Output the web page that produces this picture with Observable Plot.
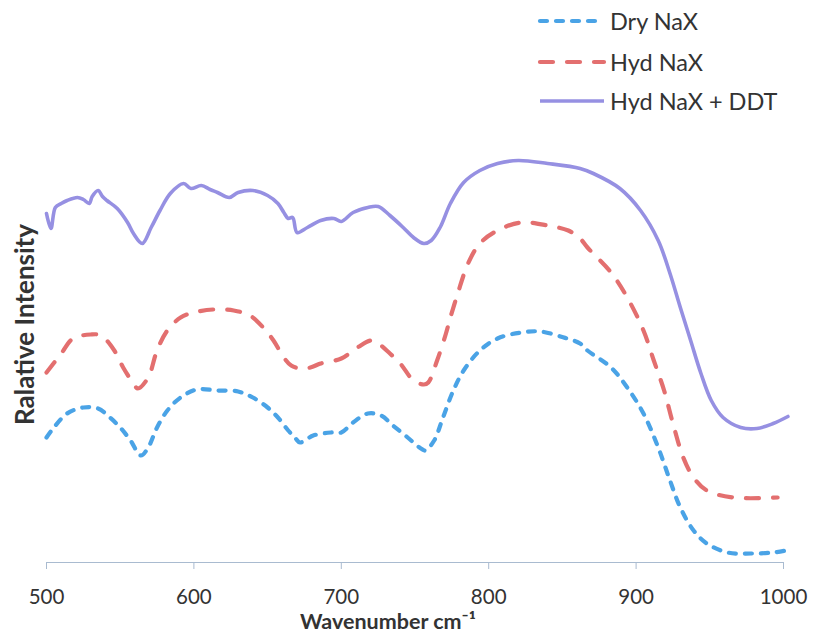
<!DOCTYPE html>
<html>
<head>
<meta charset="utf-8">
<script src="https://cdn.jsdelivr.net/npm/d3@7"></script>
<script src="https://cdn.jsdelivr.net/npm/@observablehq/plot@0.6"></script>
<style>
  html, body { margin: 0; padding: 0; background: #fff; }
  #wrap { position: relative; width: 813px; height: 635px; font-family: Lato, "Open Sans", sans-serif; }
  #legend { position: absolute; left: 537px; top: 0; }
  .row { position: absolute; left: 0; height: 30px; display: flex; align-items: center; white-space: nowrap;
         font-size: 23.5px; color: #333; }
  .row svg { margin-right: 3px; }
</style>
</head>
<body>
<div id="wrap"></div>
<script>
// Raman spectra, 500–1000 cm-1 (relative intensity, arbitrary units)
const dryWave = [500,505,514,525,535,543,550,557,564,569,575,582,591,602,616,630,640,650,657,664,669,672,681,693,700,708,718,727,735,745,754,757,763,769,776,783,794,806,822,835,851,862,867,883,894,905,915,923,930,939,948,962,978,993,1002];
const dryIntensity = [25,27,29.8,31,30.8,29,27,24.4,21.4,23,27,30.4,33,34.6,34.4,34.2,33,31,29,26.4,24.8,24,25.4,26,26,28,29.8,29.4,27.4,25,22.8,22.4,24.4,29,34.4,38.4,42.4,44.8,46,46.2,45,43.8,42.4,39,35,29.8,23,16.4,11,6.4,3.8,2,1.8,2,2.4];

const hydWave = [500,510,518,530,537,546,552,559,562,569,575,582,591,600,613,627,638,647,654,661,666,672,679,686,700,711,720,725,733,740,749,756,759,765,771,774,779,786,794,806,822,840,854,862,867,883,894,905,912,919,925,932,939,948,966,996];
const hydIntensity = [38,41.8,44.8,45.6,45.4,42.4,39,35.8,34.8,37,42.4,46.4,49,50,50.6,50.4,49.4,47,44.4,41,39.4,38.8,39,39.8,40.8,43,44.4,43.8,41.8,39.8,36.4,35.6,36,40.4,45.8,49,53.8,59.8,63.8,66.4,68,67.4,66.4,64.8,63,58,53,46.4,40.4,34.4,27.8,21,17,14.4,13,13];

const ddtWave = [500,503,506,510,514,521,525,529,531,535,538,541,548,555,559,565,571,577,584,593,598,605,611,616,624,630,640,650,657,661,664,667,670,677,686,695,700,708,718,725,733,742,749,756,761,767,774,783,794,806,820,840,862,871,889,903,915,923,930,937,944,951,959,971,982,993,1003];
const ddtIntensity = [69.8,66.8,71,71.8,72.4,73,72.6,71.8,73.2,74.4,73.2,72.4,70.8,68,65.8,63.8,67,70.4,73.8,75.8,74.8,75.4,74.6,74,73,74,74.4,73.4,71.8,70,68.8,69,66,67,68.4,68.8,68.2,70,71,71.2,69.4,67,65,63.8,64.4,67,71.8,76,78.4,79.8,80.4,79.8,78.8,77.8,74.8,70.4,64.4,57.8,51,44.4,37.8,32.4,29,27,26.8,27.8,29.2];

const seriesNames = ["Dry NaX", "Hyd NaX", "Hyd NaX + DDT"];
const xTicks = [500, 600, 700, 800, 900, 1000];
const xLabel = "Wavenumber cm⁻¹";
const yLabel = "Ralative Intensity";

const styles = {
  "Dry NaX":       {stroke: "#4aa3e6", strokeWidth: 4.2, strokeDasharray: "7,9", strokeLinecap: "round"},
  "Hyd NaX":       {stroke: "#e36f6f", strokeWidth: 4.2, strokeDasharray: "13,14", strokeLinecap: "round"},
  "Hyd NaX + DDT": {stroke: "#9690e2", strokeWidth: 3.6}
};

const toRows = (waves, values) => waves.map((w, i) => ({w, v: values[i]}));
const series = [
  toRows(dryWave, dryIntensity),
  toRows(hydWave, hydIntensity),
  toRows(ddtWave, ddtIntensity)
];

const chart = Plot.plot({
  width: 813,
  height: 635,
  marginLeft: 46,
  marginRight: 30,
  marginTop: 62,
  marginBottom: 73,
  style: {fontFamily: "Lato, 'Open Sans', sans-serif", background: "#fff", color: "#333"},
  x: {domain: [500, 1000]},
  y: {domain: [0, 100], axis: null},
  marks: [
    Plot.axisX({ticks: xTicks, tickSize: 7, tickPadding: 20, fontSize: 20.5, stroke: "#a9bbd0", label: null, tickFormat: d => String(d)}),
    Plot.ruleY([0], {stroke: "#a9bbd0", strokeWidth: 1}),
    ...series.map((rows, i) => Plot.line(rows, {
      x: "w", y: "v", curve: "catmull-rom", ...styles[seriesNames[i]]
    })),
    Plot.text([yLabel], {frameAnchor: "left", textAnchor: "middle", rotate: -90, dx: -21, dy: 12, fontSize: 26, fontWeight: "bold", fill: "#333", lineAnchor: "middle"}),
    Plot.text([xLabel], {frameAnchor: "bottom", textAnchor: "middle", dx: -27, dy: 60, fontSize: 21.5, fontWeight: "bold", fill: "#333", lineAnchor: "middle"})
  ]
});

const wrap = document.getElementById("wrap");
wrap.appendChild(chart);

// legend, top right
const legend = document.createElement("div");
legend.id = "legend";
const rowTops = [6, 47, 86];
seriesNames.forEach((name, i) => {
  const s = styles[name];
  const row = document.createElement("div");
  row.className = "row";
  row.style.top = rowTops[i] + "px";
  const svg = d3.create("svg").attr("width", 70).attr("height", 30);
  svg.append("line")
    .attr("x1", 3).attr("x2", 67).attr("y1", 15).attr("y2", 15)
    .attr("stroke", s.stroke).attr("stroke-width", s.strokeWidth)
    .attr("stroke-dasharray", s.strokeDasharray || null)
    .attr("stroke-linecap", s.strokeLinecap || "butt");
  row.appendChild(svg.node());
  const label = document.createElement("span");
  label.textContent = name;
  row.appendChild(label);
  legend.appendChild(row);
});
wrap.appendChild(legend);
</script>
</body>
</html>
